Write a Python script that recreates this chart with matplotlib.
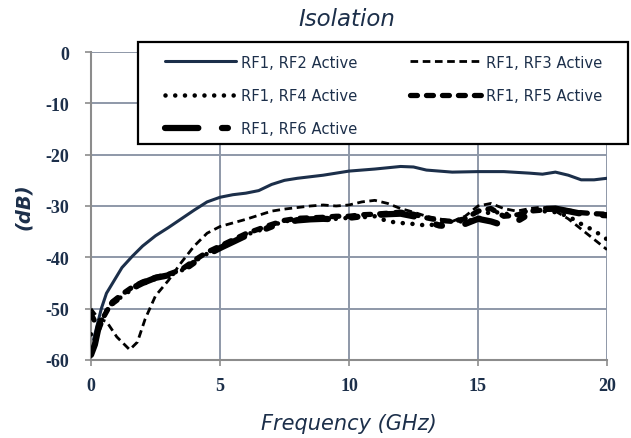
import matplotlib
matplotlib.use("Agg")
import matplotlib.pyplot as plt
from matplotlib.patches import Rectangle

plt.rcParams['lines.scale_dashes'] = False
plt.rcParams['axes.unicode_minus'] = False

NAVY = '#1c2f4a'

# ---- data ----
f_rf2 = [0.1, 0.2, 0.4, 0.6, 0.9, 1.2, 1.6, 2.0, 2.5, 3.0, 3.5, 4.0, 4.5, 5.0, 5.5, 6.0, 6.5,
         7.0, 7.5, 8.0, 9.0, 10.0, 11.0, 12.0, 12.5, 13.0, 14.0, 15.0, 16.0, 17.0, 17.5,
         18.0, 18.5, 19.0, 19.5, 20.0]
db_rf2 = [-56, -54, -50, -47, -44.5, -42, -39.8, -37.8, -35.8, -34.2, -32.5, -30.8, -29.2,
          -28.3, -27.8, -27.5, -27.0, -25.8, -25.0, -24.6, -24.0, -23.2, -22.8, -22.3, -22.4,
          -23.0, -23.4, -23.3, -23.3, -23.6, -23.8, -23.4, -24.0, -24.9, -24.9, -24.6]

f_rf3 = [0.0, 0.3, 0.6, 1.0, 1.5, 1.8, 2.1, 2.5, 3.0, 3.5, 4.0, 4.5, 5.0, 5.5, 6.0, 6.5, 7.0,
         7.5, 8.0, 8.5, 9.0, 9.5, 10.0, 10.5, 11.0, 11.5, 12.0, 12.5, 13.0, 13.5, 14.0, 14.5,
         15.0, 15.5, 16.0, 16.5, 17.0, 17.5, 18.0, 18.5, 19.0, 19.5, 20.0]
db_rf3 = [-50, -52, -52.5, -55.5, -58, -56.5, -52, -47.5, -44.5, -41, -37.8, -35.3, -34,
          -33.3, -32.6, -31.8, -31, -30.6, -30.3, -30, -29.8, -30, -29.8, -29.2, -28.9, -29.5,
          -30.5, -31.2, -32, -32.5, -33, -32, -30, -29.5, -30.5, -31, -30.5, -30.2, -31, -32.5,
          -34.5, -36.5, -38.5]

f_thick = [0.0, 0.15, 0.3, 0.5, 0.8, 1.2, 1.6, 2.0, 2.5, 3.0, 3.5, 4.0, 4.5, 5.0, 5.5, 6.0,
           6.5, 7.0, 7.5, 8.0, 8.5, 9.0, 9.5, 10.0, 10.5, 11.0, 11.5, 12.0, 12.5, 13.0, 13.5,
           14.0, 14.5, 15.0, 15.5, 16.0, 16.5, 17.0, 17.5, 18.0, 18.5, 19.0, 19.5, 20.0]
db_rf4 = [-55, -54.5, -54, -51, -49.2, -47.6, -46.2, -45.2, -44.2, -43.6, -42.6, -40.8,
          -39.3, -38, -36.8, -35.6, -34.8, -33.8, -33.0, -32.6, -32.5, -32.4, -32.5, -32.3,
          -32.2, -32.0, -33.0, -33.3, -33.5, -33.8, -33.5, -33.0, -33.0, -32.5, -31.0, -31.5,
          -31.7, -30.8, -31.0, -31.2, -32.0, -33.5, -34.8, -36.5]
db_rf5 = [-51, -52.5, -54, -51.5, -48.8, -47.2, -45.8, -44.8, -43.9, -43.3, -42.4, -40.6,
          -39.0, -37.8, -36.6, -35.4, -34.5, -33.6, -32.8, -32.4, -32.3, -32.2, -32.0, -32.0,
          -31.7, -31.6, -31.4, -31.2, -31.6, -32.3, -32.8, -33.0, -32.5, -31.0, -30.5, -32.0,
          -31.8, -31.0, -30.8, -30.5, -31.0, -31.3, -31.5, -31.6]
db_rf6 = [-59, -57, -53.5, -50.5, -49, -47.5, -46, -45, -44, -43.5, -42.8, -41, -39.5,
          -38.2, -37, -35.8, -35, -34, -33.2, -32.8, -32.6, -32.5, -32.6, -32.3, -32, -31.8,
          -31.6, -31.5, -32, -33, -33.8, -34, -33.5, -32.5, -33, -33.8, -33, -31.5, -30.6,
          -30.5, -31, -31.5, -31.7, -31.8]

x_ticks = [0, 5, 10, 15, 20]
y_ticks = [0, -10, -20, -30, -40, -50, -60]
labels = ['RF1, RF2 Active', 'RF1, RF3 Active', 'RF1, RF4 Active',
          'RF1, RF5 Active', 'RF1, RF6 Active']

W, H = 631, 439
fig = plt.figure(figsize=(W/100, H/100), dpi=100)
ax = fig.add_axes([91/W, 1-361/H, 516/W, 308/H])

h2, = ax.plot(f_rf2, db_rf2, color=NAVY, lw=2.2, solid_capstyle='round', zorder=3)
h3, = ax.plot(f_rf3, db_rf3, color='black', lw=2.0, linestyle=(0, (5.5, 3.3)), zorder=3)
h4, = ax.plot(f_thick, db_rf4, color='black', lw=3.3, linestyle=(0, (0.01, 7.0)),
              dash_capstyle='round', zorder=3)
h5, = ax.plot(f_thick, db_rf5, color='black', lw=3.8, linestyle=(0, (5, 6.5)),
              dash_capstyle='round', zorder=3)
h6, = ax.plot(f_thick, db_rf6, color='black', lw=4.5, linestyle=(0, (24, 17, 4.3, 17)),
              dash_capstyle='round', zorder=3)

ax.set_xlim(0, 20)
ax.set_ylim(-60, 0)
ax.set_xticks(x_ticks)
ax.set_yticks(y_ticks)
ax.grid(True, color='#8e98a8', lw=1.4)
ax.set_axisbelow(True)
for s in ['top', 'right']:
    ax.spines[s].set_visible(False)
for s in ['left', 'bottom']:
    ax.spines[s].set_color('#8c8c8c')
    ax.spines[s].set_linewidth(1.5)
ax.tick_params(axis='both', colors='#8c8c8c', length=4, width=1.2, labelcolor=NAVY)
ax.tick_params(axis='y', pad=12)
ax.tick_params(axis='x', pad=8)
for lab in ax.get_xticklabels() + ax.get_yticklabels():
    lab.set_fontfamily('Liberation Serif')
    lab.set_fontweight('bold')
    lab.set_fontsize(13)

ax.set_xlabel('Frequency (GHz)', fontsize=15, style='italic', color=NAVY,
              family='DejaVu Sans', labelpad=14)
ax.set_ylabel('(dB)', fontsize=14, style='italic', fontweight='bold', color=NAVY,
              family='DejaVu Sans', labelpad=9)
fig.text(347/W, 1-20/H, 'Isolation', ha='center', va='center', fontsize=16.5,
         style='italic', color=NAVY, family='DejaVu Sans')

# legend box
fig.patches.append(Rectangle((138/W, 1-145/H), 490/W, 102/H, transform=fig.transFigure,
                             facecolor='white', edgecolor='black', lw=1.6, zorder=5))
leg = fig.legend([h2, h4, h6, h3, h5], [labels[0], labels[2], labels[4], labels[1], labels[3]],
                 ncol=2, loc='upper left',
                 bbox_to_anchor=(165/W, 1-55.5/H),
                 frameon=False, handlelength=4.8,
                 prop={'family': 'DejaVu Sans', 'size': 10.6}, labelcolor=NAVY,
                 borderaxespad=0, handletextpad=0.35, labelspacing=1.25, borderpad=0,
                 columnspacing=3.6)
leg.set_zorder(6)

fig.savefig('out.png', dpi=100)
